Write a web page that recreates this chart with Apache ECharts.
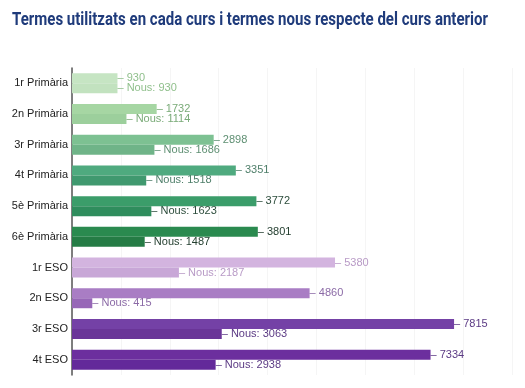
<!DOCTYPE html>
<html><head><meta charset="utf-8">
<style>html,body{margin:0;padding:0;background:#fff}#c{width:525px;height:388px}</style>
<script src="https://cdn.jsdelivr.net/npm/echarts@6/dist/echarts.min.js"></script>
</head><body><div id="c"></div>
<script>
const titleText = 'Termes utilitzats en cada curs i termes nous respecte del curs anterior';
const categories = ['1r Primària','2n Primària','3r Primària','4t Primària','5è Primària','6è Primària','1r ESO','2n ESO','3r ESO','4t ESO'];
const totals = [930,1732,2898,3351,3772,3801,5380,4860,7815,7334];
const nous = [930,1114,1686,1518,1623,1487,2187,415,3063,2938];
const totalColors = ['#c6e5c3','#a6d6a3','#7dc192','#4faa7f','#3b9d6a','#2a8a4f','#d3b4df','#a97dc4','#7441a6','#6c2f9e'];
const nousColors = ['#c2e2bf','#9ccf9c','#6fb488','#40996f','#2f8d5d','#257c45','#c8a7d7','#9767b7','#6a3598','#63299a'];
const labelColors = ['#8fbf8b','#7aab78','#5e8f72','#4f7f6a','#2d4d3c','#243f30','#b89ac6','#8b6aa6','#5b3a84','#5b3a84'];

const titleFont = 'bold 18px Roboto';
const ctx = document.createElement('canvas').getContext('2d');
ctx.font = titleFont;
const titleScale = 476 / ctx.measureText(titleText).width;

const chart = echarts.init(document.getElementById('c'));
chart.setOption({
  animation:false,
  graphic:[{type:'text',x:12,y:11,scaleX:titleScale,originX:0,
    style:{text:titleText,font:titleFont,fill:'#1f3b7b',textVerticalAlign:'top'}}],
  grid:{left:72,right:13,top:68,bottom:13},
  xAxis:{type:'value',min:0,max:9000,interval:1000,axisLabel:{show:false},axisLine:{show:false},axisTick:{show:false},
    splitLine:{lineStyle:{color:'#f5f5f5'}}},
  yAxis:{type:'category',data:categories,inverse:true,axisTick:{show:false},
    axisLine:{lineStyle:{color:'#555',width:1.5}},
    axisLabel:{color:'#222',fontSize:11,fontFamily:'Liberation Sans, Arial',margin:4}},
  series:[
    {type:'bar',name:'Total',barGap:'0%',barCategoryGap:'35%',
     data:totals.map((v,i)=>({value:v,itemStyle:{color:totalColors[i]},label:{color:labelColors[i]}})),
     label:{show:true,position:'right',distance:0,fontSize:11,fontFamily:'Liberation Sans, Arial',formatter:p=>'– '+p.value}},
    {type:'bar',name:'Nous',
     data:nous.map((v,i)=>({value:v,itemStyle:{color:nousColors[i]},label:{color:labelColors[i]}})),
     label:{show:true,position:'right',distance:0,fontSize:11,fontFamily:'Liberation Sans, Arial',formatter:p=>'– Nous: '+p.value}}
  ]
});
</script></body></html>
